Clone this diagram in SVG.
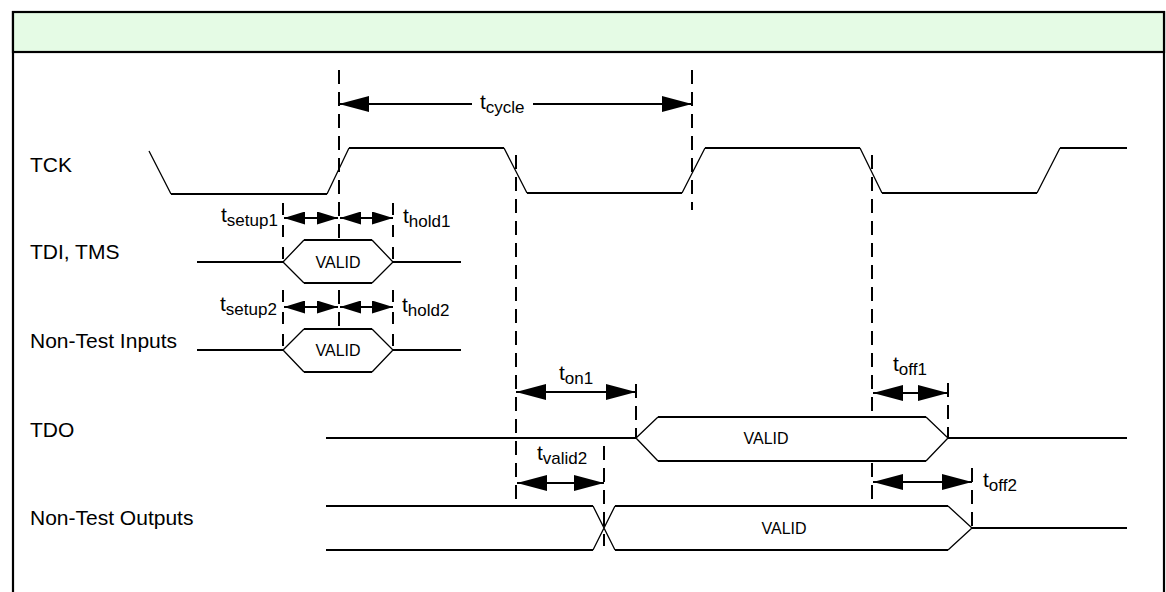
<svg xmlns="http://www.w3.org/2000/svg" width="1166" height="592" viewBox="0 0 1166 592">
<style>
.frame{fill:none;stroke:#000;stroke-width:2.2}
.hdr{fill:#E5FBE5;stroke:#000;stroke-width:2.2}
.sig{fill:none;stroke:#000;stroke-width:2}
.slope{fill:none;stroke:#000;stroke-width:1.3}
.hex{fill:#fff;stroke:none}
.dash{fill:none;stroke:#000;stroke-width:2;stroke-dasharray:14 8}
.arr{fill:none;stroke:#000;stroke-width:2}
.lbl{font-family:"Liberation Sans",Arial,sans-serif;font-size:21px;fill:#000}
.sub{font-size:17px}
.val{font-family:"Liberation Sans",Arial,sans-serif;font-size:16px;fill:#000;text-anchor:middle}
</style>
<defs>
<marker id="ah" viewBox="0 0 30 16" refX="30" refY="8" markerWidth="30" markerHeight="16" markerUnits="userSpaceOnUse" orient="auto-start-reverse"><path d="M0,0 L30,8 L0,16 z" fill="#000"/></marker>
<marker id="ahs" viewBox="0 0 21 13" refX="21" refY="6.5" markerWidth="21" markerHeight="13" markerUnits="userSpaceOnUse" orient="auto-start-reverse"><path d="M0,0 L21,6.5 L0,13 z" fill="#000"/></marker>
</defs>
<rect x="0" y="0" width="1166" height="592" fill="#fff"/>
<g id="frame">
<path class="frame" d="M13,600 V12 H1164 V600"/>
<rect class="hdr" x="13" y="12" width="1151" height="40"/>
</g>
<g id="guides">
<line class="dash" x1="339" y1="70" x2="339" y2="330"/>
<line class="dash" x1="692" y1="70" x2="692" y2="210"/>
<line class="dash" x1="516" y1="155" x2="516" y2="505"/>
<line class="dash" x1="872" y1="155" x2="872" y2="505"/>
<line class="dash" x1="283" y1="203" x2="283" y2="262" style="stroke-dasharray:12 10"/>
<line class="dash" x1="393" y1="203" x2="393" y2="262" style="stroke-dasharray:12 10"/>
<line class="dash" x1="283" y1="290" x2="283" y2="350" style="stroke-dasharray:12 10"/>
<line class="dash" x1="393" y1="290" x2="393" y2="350" style="stroke-dasharray:12 10"/>
<line class="dash" x1="636" y1="384" x2="636" y2="438"/>
<line class="dash" x1="604" y1="446" x2="604" y2="546"/>
<line class="dash" x1="948" y1="383" x2="948" y2="438"/>
<line class="dash" x1="972" y1="468" x2="972" y2="528"/>
</g>
<g id="TCK">
<text class="lbl" x="30" y="172">TCK</text>
<path class="sig" d="M171,194 H327 M349,148 H504 M527,193 H682 M705,148 H860 M882,193 H1037 M1060,148 H1127"/>
<path class="slope" d="M149,151 L171,194 M327,194 L349,148 M504,148 L527,193 M682,193 L705,148 M860,148 L882,193 M1037,193 L1060,148"/>
</g>
<g id="TDI">
<text class="lbl" x="30" y="259">TDI, TMS</text>
<polygon class="hex" points="283,262 304,240 372,240 393,262 372,283 304,283"/>
<path class="sig" d="M197,262 H283 M304,240 H372 M304,283 H372 M393,262 H461"/>
<path class="slope" d="M283,262 L304,240 M283,262 L304,283 M372,240 L393,262 L372,283"/>
<text class="val" x="338" y="268">VALID</text>
</g>
<g id="NTI">
<text class="lbl" x="30" y="348">Non-Test Inputs</text>
<polygon class="hex" points="283,350 304,329 372,329 393,350 372,372 304,372"/>
<path class="sig" d="M197,350 H283 M304,329 H372 M304,372 H372 M393,350 H461"/>
<path class="slope" d="M283,350 L304,329 M283,350 L304,372 M372,329 L393,350 L372,372"/>
<text class="val" x="338" y="356">VALID</text>
</g>
<g id="TDO">
<text class="lbl" x="30" y="437">TDO</text>
<polygon class="hex" points="636,438 658,417 926,417 948,438 926,461 658,461"/>
<path class="sig" d="M326,438 H636 M658,417 H926 M658,461 H926 M948,438 H1127"/>
<path class="slope" d="M636,438 L658,417 M636,438 L658,461 M926,417 L948,438 L926,461"/>
<text class="val" x="766" y="444">VALID</text>
</g>
<g id="NTO">
<text class="lbl" x="30" y="525">Non-Test Outputs</text>
<path class="sig" d="M326,506 H593 M326,550 H593 M615,506 H948 M615,550 H948 M972,528 H1127"/>
<path class="slope" d="M593,506 L615,550 M593,550 L615,506 M948,506 L972,528 L948,550"/>
<text class="val" x="784" y="534">VALID</text>
</g>
<g id="connectors">
<line class="arr" x1="339" y1="104" x2="472" y2="104" marker-start="url(#ah)"/>
<line class="arr" x1="533" y1="104" x2="692" y2="104" marker-end="url(#ah)"/>
<line class="arr" x1="284" y1="218" x2="338" y2="218" marker-start="url(#ahs)" marker-end="url(#ahs)"/>
<line class="arr" x1="340" y1="218" x2="393" y2="218" marker-start="url(#ahs)" marker-end="url(#ahs)"/>
<line class="arr" x1="284" y1="307" x2="338" y2="307" marker-start="url(#ahs)" marker-end="url(#ahs)"/>
<line class="arr" x1="340" y1="307" x2="393" y2="307" marker-start="url(#ahs)" marker-end="url(#ahs)"/>
<line class="arr" x1="516" y1="392" x2="636" y2="392" marker-start="url(#ah)" marker-end="url(#ah)"/>
<line class="arr" x1="517" y1="483" x2="604" y2="483" marker-start="url(#ah)" marker-end="url(#ah)"/>
<line class="arr" x1="873" y1="393" x2="948" y2="393" marker-start="url(#ah)" marker-end="url(#ah)"/>
<line class="arr" x1="873" y1="482" x2="972" y2="482" marker-start="url(#ah)" marker-end="url(#ah)"/>
</g>
<g id="labels">
<text class="lbl" x="480" y="109">t<tspan class="sub" dy="4">cycle</tspan></text>
<text class="lbl" x="221" y="222">t<tspan class="sub" dy="4">setup1</tspan></text>
<text class="lbl" x="403" y="223">t<tspan class="sub" dy="4">hold1</tspan></text>
<text class="lbl" x="220" y="311">t<tspan class="sub" dy="4">setup2</tspan></text>
<text class="lbl" x="402" y="312">t<tspan class="sub" dy="4">hold2</tspan></text>
<text class="lbl" x="559" y="380">t<tspan class="sub" dy="4">on1</tspan></text>
<text class="lbl" x="537" y="460">t<tspan class="sub" dy="4">valid2</tspan></text>
<text class="lbl" x="893" y="371">t<tspan class="sub" dy="4">off1</tspan></text>
<text class="lbl" x="983" y="487">t<tspan class="sub" dy="4">off2</tspan></text>
</g>
</svg>
